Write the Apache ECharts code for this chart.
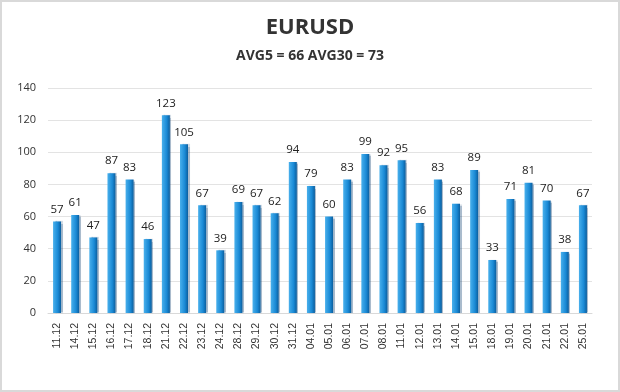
<!DOCTYPE html>
<html><head><meta charset="utf-8">
<script src="https://cdn.jsdelivr.net/npm/echarts@6/dist/echarts.min.js"></script>
<style>html,body{margin:0;padding:0;background:#fff}#c{width:620px;height:392px;box-sizing:border-box;border:2px solid #d9d9d9}</style>
</head><body><div id="c"></div>
<script>
const categories = ["11.12","14.12","15.12","16.12","17.12","18.12","21.12","22.12","23.12","24.12","28.12","29.12","30.12","31.12","04.01","05.01","06.01","07.01","08.01","11.01","12.01","13.01","14.01","15.01","18.01","19.01","20.01","21.01","22.01","25.01"];
const values = [57,61,47,87,83,46,123,105,67,39,69,67,62,94,79,60,83,99,92,95,56,83,68,89,33,71,81,70,38,67];
const titleText = "EURUSD";
const subtitleText = "AVG5 = 66 AVG30 = 73";

const chart = echarts.init(document.getElementById('c'), null, {renderer:'canvas'});
chart.setOption({
  animation:false,
  backgroundColor:'#fff',
  title:{text:titleText, subtext:subtitleText, left:'center', top:10, itemGap:10,
    textStyle:{fontFamily:'Open Sans', fontSize:22, fontWeight:'bold', color:'#333'},
    subtextStyle:{fontFamily:'Open Sans', fontSize:14, fontWeight:'bold', color:'#333'}},
  grid:{left:46, right:26, top:86, bottom:77},
  xAxis:{type:'category', data:categories,
    axisLine:{lineStyle:{color:'#d9d9d9'}}, axisTick:{show:false},
    axisLabel:{rotate:90, color:'#333', fontFamily:'Liberation Sans', fontSize:10.5, margin:10, interval:0}},
  yAxis:{type:'value', min:0, max:140, interval:20,
    axisLabel:{color:'#333', fontFamily:'Open Sans', fontSize:11, margin:12},
    splitLine:{lineStyle:{color:'#e3e3e3'}}, axisLine:{show:false}, axisTick:{show:false}},
  series:[{type:'bar', data:values, barWidth:8,
    itemStyle:{color:new echarts.graphic.LinearGradient(0,0,1,0,[{offset:0,color:'#49b0ec'},{offset:0.6,color:'#1a8ad6'},{offset:1,color:'#0b5e9e'}]),
      shadowColor:'rgba(10,60,110,0.35)', shadowOffsetX:1.5, shadowOffsetY:0, shadowBlur:1},
    label:{show:true, position:'top', distance:6, color:'#222', fontFamily:'Open Sans', fontSize:11.5}}]
});
</script></body></html>
